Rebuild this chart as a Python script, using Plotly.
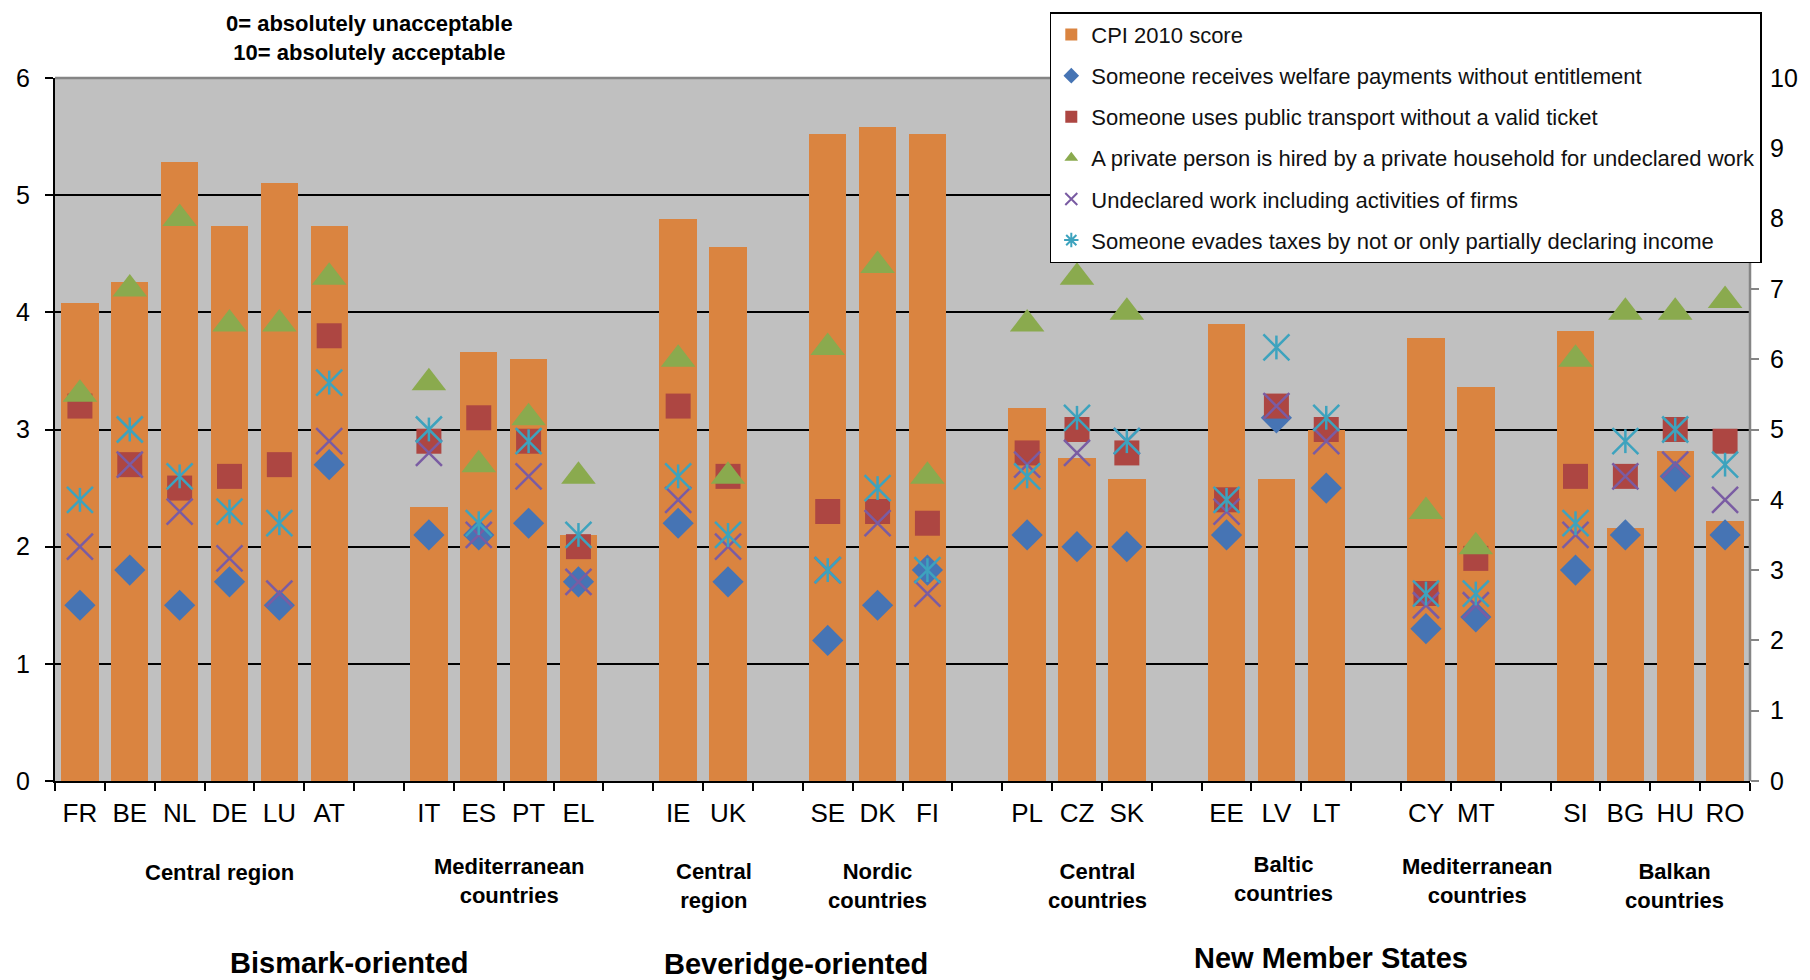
import plotly.graph_objects as go

# Countries, grouped as they appear along the category axis
groups = [
    ["FR", "BE", "NL", "DE", "LU", "AT"],
    ["IT", "ES", "PT", "EL"],
    ["IE", "UK"],
    ["SE", "DK", "FI"],
    ["PL", "CZ", "SK"],
    ["EE", "LV", "LT"],
    ["CY", "MT"],
    ["SI", "BG", "HU", "RO"],
]
countries = [c for g in groups for c in g]

# CPI 2010 score (right axis, 0-10)
cpi_2010 = [6.8, 7.1, 8.8, 7.9, 8.5, 7.9,
            3.9, 6.1, 6.0, 3.5,
            8.0, 7.6,
            9.2, 9.3, 9.2,
            5.3, 4.6, 4.3,
            6.5, 4.3, 5.0,
            6.3, 5.6,
            6.4, 3.6, 4.7, 3.7]

# Acceptability of behaviours (left axis)
welfare = [1.5, 1.8, 1.5, 1.7, 1.5, 2.7,
           2.1, 2.1, 2.2, 1.7,
           2.2, 1.7,
           1.2, 1.5, 1.8,
           2.1, 2.0, 2.0,
           2.1, 3.1, 2.5,
           1.3, 1.4,
           1.8, 2.1, 2.6, 2.1]
transport = [3.2, 2.7, 2.5, 2.6, 2.7, 3.8,
             2.9, 3.1, 2.9, 2.0,
             3.2, 2.6,
             2.3, 2.3, 2.2,
             2.8, 3.0, 2.8,
             2.4, 3.2, 3.0,
             1.6, 1.9,
             2.6, 2.6, 3.0, 2.9]
household = [3.3, 4.2, 4.8, 3.9, 3.9, 4.3,
             3.4, 2.7, 3.1, 2.6,
             3.6, 2.6,
             3.7, 4.4, 2.6,
             3.9, 4.3, 4.0,
             None, None, None,
             2.3, 2.0,
             3.6, 4.0, 4.0, 4.1]
firms = [2.0, 2.7, 2.3, 1.9, 1.6, 2.9,
         2.8, 2.1, 2.6, 1.7,
         2.4, 2.0,
         1.8, 2.2, 1.6,
         2.7, 2.8, 2.9,
         2.3, 3.2, 2.9,
         1.5, 1.5,
         2.1, 2.6, 2.7, 2.4]
taxes = [2.4, 3.0, 2.6, 2.3, 2.2, 3.4,
         3.0, 2.2, 2.9, 2.1,
         2.6, 2.1,
         1.8, 2.5, 1.8,
         2.6, 3.1, 2.9,
         2.4, 3.7, 3.1,
         1.6, 1.6,
         2.2, 2.9, 3.0, 2.7]

series_names = [
    "CPI 2010 score",
    "Someone receives welfare payments without entitlement",
    "Someone uses public transport without a valid ticket",
    "A private person is hired by a private household for undeclared work",
    "Undeclared work including activities of firms",
    "Someone evades taxes by not or only partially declaring income",
]

# Slot positions: one empty slot between groups
x_pos = []
slot = 0
for g in groups:
    for _ in g:
        x_pos.append(slot)
        slot += 1
    slot += 1
n_slots = slot - 1

FONT = "Liberation Sans, Arial, sans-serif"
ORANGE = "#DA8440"
BLUE = "#4674B4"
RED = "#AD4642"
GREEN = "#8AAA4E"
PURPLE = "#7A5CA3"
TEAL = "#3DA3BE"

fig = go.Figure()

# Bars sit on the base axis (right-hand 0-10 scale); markers on the
# overlaying left-hand 0-6 scale so they are drawn above the bars.
fig.add_trace(go.Bar(
    x=x_pos, y=cpi_2010, name=series_names[0], yaxis="y",
    width=0.75, marker=dict(color=ORANGE, line=dict(width=0)),
    legendgroup="g0",
))
fig.add_trace(go.Scatter(
    x=x_pos, y=welfare, name=series_names[1], mode="markers", yaxis="y2",
    marker=dict(symbol="diamond", size=24, color=BLUE, line=dict(width=0)),
    legendgroup="g1",
))
fig.add_trace(go.Scatter(
    x=x_pos, y=transport, name=series_names[2], mode="markers", yaxis="y2",
    marker=dict(symbol="square", size=25, color=RED, line=dict(width=0)),
    legendgroup="g2",
))
fig.add_trace(go.Scatter(
    x=x_pos, y=household, name=series_names[3], mode="markers", yaxis="y2",
    marker=dict(symbol="triangle-up", size=30, color=GREEN, line=dict(width=0)),
    legendgroup="g3",
))
fig.add_trace(go.Scatter(
    x=x_pos, y=firms, name=series_names[4], mode="markers", yaxis="y2",
    marker=dict(symbol="x-thin-open", size=26,
                line=dict(width=2.5, color=PURPLE), color=PURPLE),
    legendgroup="g4",
))
# Six-armed asterisk: diagonal cross plus vertical stroke
fig.add_trace(go.Scatter(
    x=[None], y=[None], name=series_names[5], mode="markers", yaxis="y2",
    marker=dict(symbol="asterisk-open", size=21,
                line=dict(width=2.5, color=TEAL), color=TEAL),
    legendgroup="g5",
))
fig.add_trace(go.Scatter(
    x=x_pos, y=taxes, name=series_names[5], mode="markers", yaxis="y2",
    showlegend=False,
    marker=dict(symbol="x-thin-open", size=26,
                line=dict(width=2.5, color=TEAL), color=TEAL),
    legendgroup="g5",
))
fig.add_trace(go.Scatter(
    x=x_pos, y=taxes, name=series_names[5], mode="markers", yaxis="y2",
    showlegend=False,
    marker=dict(symbol="line-ns-open", size=17,
                line=dict(width=2.5, color=TEAL), color=TEAL),
    legendgroup="g5",
))

# Region and welfare-model labels below the axis
region_labels = [
    ("Central region", 2.8, -0.130),
    ("Mediterranean<br>countries", 8.6, -0.1416),
    ("Central<br>region", 12.72, -0.1487),
    ("Nordic<br>countries", 16.0, -0.1487),
    ("Central<br>countries", 20.42, -0.1487),
    ("Baltic<br>countries", 24.14, -0.140),
    ("Mediterranean<br>countries", 28.03, -0.1416),
    ("Balkan<br>countries", 31.98, -0.1487),
]
model_labels = [
    ("Bismark-oriented", 5.41, -0.259),
    ("Beveridge-oriented", 14.36, -0.2606),
    ("New Member States", 25.1, -0.252),
]
annotations = []
for text, ax, ay in region_labels:
    annotations.append(dict(
        text="<b>%s</b>" % text, x=ax, y=ay, xref="x", yref="paper",
        showarrow=False, xanchor="center", yanchor="middle",
        font=dict(family=FONT, size=22, color="black"), align="center",
    ))
for text, ax, ay in model_labels:
    annotations.append(dict(
        text="<b>%s</b>" % text, x=ax, y=ay, xref="x", yref="paper",
        showarrow=False, xanchor="center", yanchor="middle",
        font=dict(family=FONT, size=29, color="black"), align="center",
    ))
annotations.append(dict(
    text="<b>0= absolutely unacceptable<br>10= absolutely acceptable</b>",
    x=0.1856, y=1.057, xref="paper", yref="paper", showarrow=False,
    xanchor="center", yanchor="middle", align="center",
    font=dict(family=FONT, size=22, color="black"),
))

fig.update_layout(
    width=1810, height=980,
    margin=dict(l=55, r=58, t=75, b=199, pad=0),
    paper_bgcolor="white",
    plot_bgcolor="#C0C0C0",
    font=dict(family=FONT, color="black"),
    showlegend=True,
    legend=dict(
        x=0.5869, y=1.0935, xanchor="left", yanchor="top",
        bgcolor="white", bordercolor="black", borderwidth=1.5,
        font=dict(family=FONT, size=22, color="#111111"),
        traceorder="grouped", tracegroupgap=9.5, itemsizing="constant",
    ),
    xaxis=dict(
        range=[-0.5, n_slots - 0.5],
        tickmode="array", tickvals=x_pos, ticktext=countries,
        ticks="", showgrid=False, zeroline=False,
        showline=True, linecolor="black", linewidth=2,
        tickfont=dict(family=FONT, size=26, color="black"),
        ticklabelstandoff=8,
        minor=dict(tickmode="linear", tick0=-0.5, dtick=1, ticks="outside",
                   ticklen=8, tickwidth=1.5, tickcolor="black", showgrid=False),
    ),
    # right-hand scale (CPI)
    yaxis=dict(
        range=[0, 10], tickmode="linear", tick0=0, dtick=1,
        side="right", showgrid=False, zeroline=False,
        showline=False, ticks="outside", ticklen=8, tickwidth=1.5,
        tickcolor="#858585",
        tickfont=dict(family=FONT, size=25, color="black"),
        ticklabelstandoff=6,
    ),
    # left-hand scale (acceptability)
    yaxis2=dict(
        range=[0, 6], tickmode="linear", tick0=0, dtick=1,
        overlaying="y", side="left",
        showgrid=True, gridcolor="black", gridwidth=1.5,
        zeroline=False, showline=True, linecolor="black", linewidth=2,
        ticks="outside", ticklen=8, tickwidth=1.5, tickcolor="black",
        tickfont=dict(family=FONT, size=25, color="black"),
        ticklabelstandoff=10,
    ),
    bargap=0,
    annotations=annotations,
    shapes=[
        dict(type="line", xref="paper", yref="paper", x0=0, x1=1, y0=1, y1=1,
             line=dict(color="#858585", width=2.5), layer="above"),
        dict(type="line", xref="paper", yref="paper", x0=1, x1=1, y0=0, y1=1,
             line=dict(color="#858585", width=2.5), layer="above"),
    ],
)

fig.write_html("out.html")
